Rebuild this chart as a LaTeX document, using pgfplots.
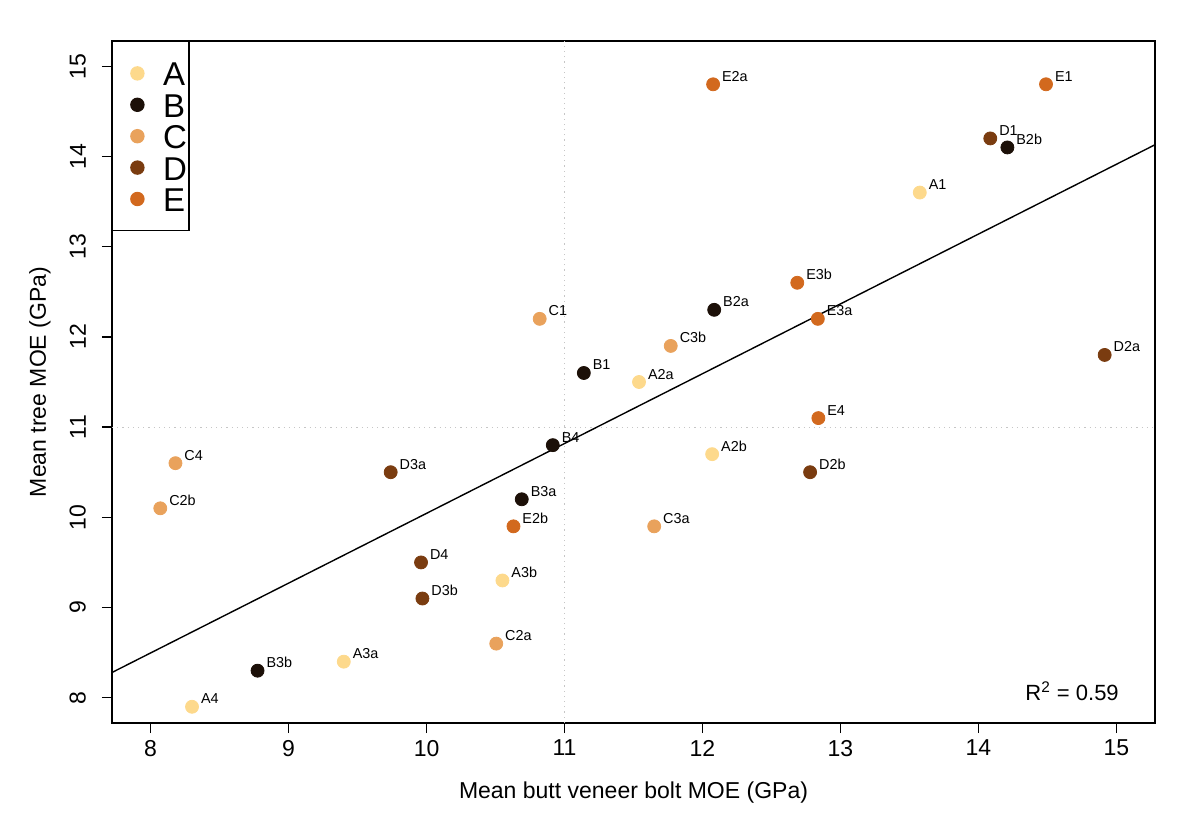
\documentclass[border=0pt]{standalone}
\usepackage{pgfplots}
\pgfplotsset{compat=1.18}
\usepackage{fontspec}
\setmainfont{Liberation Sans}
\definecolor{cA}{HTML}{FDD98C}
\definecolor{cB}{HTML}{1C1008}
\definecolor{cC}{HTML}{E9A25C}
\definecolor{cD}{HTML}{7A3C10}
\definecolor{cE}{HTML}{D2691E}
\pgfplotsset{
  pt/.style={only marks, mark=*, mark size=3.25pt, color=#1, mark options={draw=#1, fill=#1},
    nodes near coords, point meta=explicit symbolic,
    every node near coord/.style={anchor=base west, font=\fontsize{7.2}{8}\selectfont, text=black, inner sep=0pt, xshift=4.3pt, yshift=1.5pt},
    legend image code/.code={\path (0pt,-6.25pt) (23.4pt,6.25pt); \fill (10.9pt,0pt) circle (3.25pt);}},
}
\begin{document}
\begin{tikzpicture}
\begin{axis}[
  scale only axis, width=521.5pt, height=341pt,
  xmin=7.72, xmax=15.28, ymin=7.72, ymax=15.28,
  axis line style={line width=0.7pt},
  xtick={8,...,15}, ytick={8,...,15},
  tick align=outside, tick pos=left, major tick length=5pt,
  tick style={black, line width=0.7pt},
  ticklabel style={font=\fontsize{11.5}{13}\selectfont},
  /pgf/number format/assume math mode=true,
  yticklabel style={xshift=-4.5pt, rotate=90, anchor=south},
  xlabel={Mean butt veneer bolt MOE (GPa)},
  ylabel={Mean tree MOE (GPa)},
  label style={font=\fontsize{11.5}{13}\selectfont},
  xlabel style={at={(axis description cs:0.5,-0.1026)}, anchor=center},
  ylabel style={at={(axis description cs:-0.069,0.5)}, anchor=center},
  legend style={at={(axis description cs:0,1)}, anchor=north west, draw=black, line width=0.7pt,
    inner xsep=1.1pt, inner ysep=9.25pt, row sep=2.5pt, column sep=0pt,
    nodes={inner sep=0pt, text height=12.5pt, text depth=0pt, font=\fontsize{16.5}{16.5}\selectfont},
    cells={anchor=west}},
]
\addplot[forget plot, gray!45, dotted, line width=0.6pt] coordinates {(11,7.72) (11,15.28)};
\addplot[forget plot, gray!45, dotted, line width=0.6pt] coordinates {(7.72,11) (15.28,11)};

\addplot[pt=cA] table[meta=label] {
x y label
8.30 7.9 A4
9.40 8.4 A3a
10.55 9.3 A3b
12.07 10.7 A2b
11.54 11.5 A2a
13.575 13.6 A1
};
\addlegendentry{A}
\addplot[pt=cB] table[meta=label] {
x y label
8.775 8.3 B3b
10.69 10.2 B3a
10.915 10.8 B4
11.14 11.6 B1
12.085 12.3 B2a
14.21 14.1 B2b
};
\addlegendentry{B}
\addplot[pt=cC] table[meta=label] {
x y label
10.505 8.6 C2a
11.65 9.9 C3a
8.07 10.1 C2b
8.18 10.6 C4
11.77 11.9 C3b
10.82 12.2 C1
};
\addlegendentry{C}
\addplot[pt=cD] table[meta=label] {
x y label
9.97 9.1 D3b
9.96 9.5 D4
9.74 10.5 D3a
12.78 10.5 D2b
14.915 11.8 D2a
14.086 14.2 D1
};
\addlegendentry{D}
\addplot[pt=cE] table[meta=label] {
x y label
10.63 9.9 E2b
12.84 11.1 E4
12.836 12.2 E3a
12.687 12.6 E3b
12.077 14.8 E2a
14.49 14.8 E1
};
\addlegendentry{E}

\addplot[forget plot, black, line width=0.7pt] coordinates {(7.72,8.28) (15.28,14.13)};
\node[anchor=base east, inner sep=0pt, font=\fontsize{11}{13}\selectfont] at (axis cs:15.02,7.97) {R\textsuperscript{2} = 0.59};
\coordinate (ll) at (rel axis cs:0,0);
\coordinate (ur) at (rel axis cs:1,1);
\end{axis}
\path (ll) ++(-56pt,-57.5pt) coordinate (a);
\path (ur) ++(22.5pt,20.5pt) coordinate (b);
\pgfresetboundingbox
\path (a) rectangle (b);
\end{tikzpicture}
\end{document}
